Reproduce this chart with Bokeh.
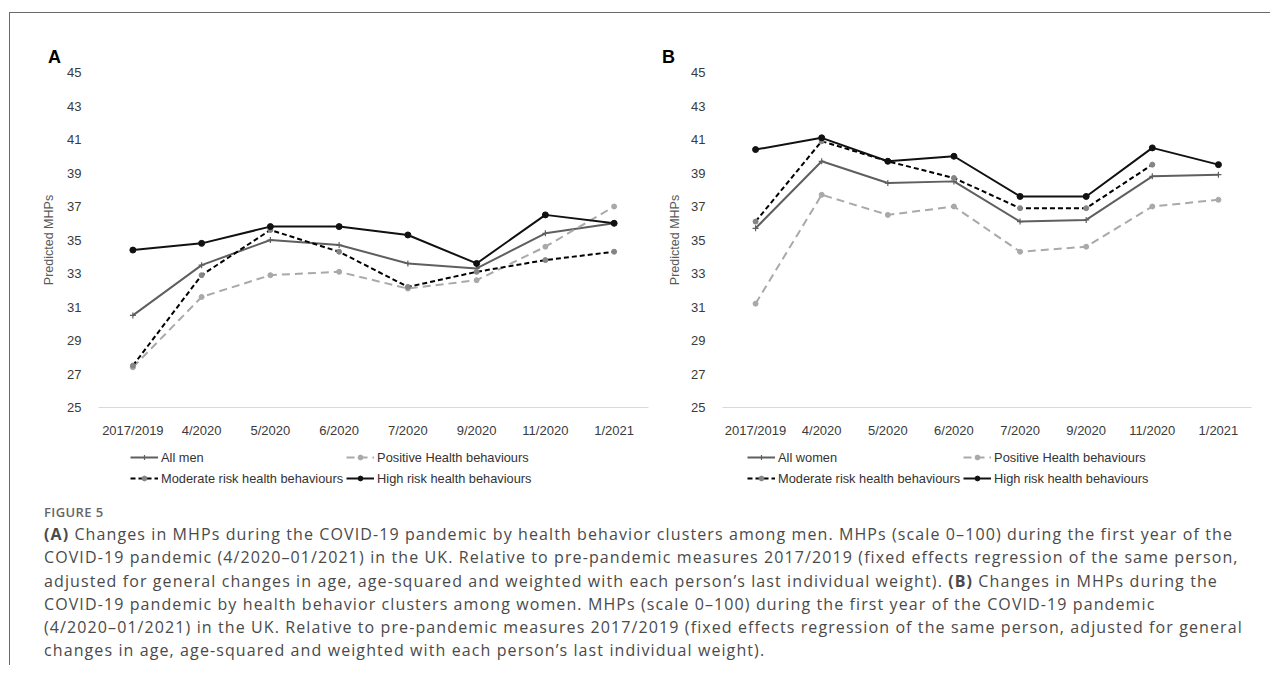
import math
from bokeh.plotting import figure
from bokeh.models import Range1d, FactorRange, FixedTicker, Legend, LegendItem, Div
from bokeh.layouts import row, column
from bokeh.embed import file_html
from bokeh.resources import INLINE

NaN = float("nan")

periods = ["2017/2019", "4/2020", "5/2020", "6/2020", "7/2020", "9/2020", "11/2020", "1/2021"]
y_ticks = [25, 27, 29, 31, 33, 35, 37, 39, 41, 43, 45]

# Panel A (men)
all_men = [30.5, 33.5, 35.0, 34.7, 33.6, 33.3, 35.4, 36.0]
positive_men = [27.4, 31.6, 32.9, 33.1, 32.1, 32.6, 34.6, 37.0]
moderate_men = [27.5, 32.9, 35.6, 34.3, 32.2, 33.1, 33.8, 34.3]
high_men = [34.4, 34.8, 35.8, 35.8, 35.3, 33.6, 36.5, 36.0]

# Panel B (women)
all_women = [35.7, 39.7, 38.4, 38.5, 36.1, 36.2, 38.8, 38.9]
positive_women = [31.2, 37.7, 36.5, 37.0, 34.3, 34.6, 37.0, 37.4]
moderate_women = [36.1, 40.9, 39.7, 38.7, 36.9, 36.9, 39.5, NaN]
high_women = [40.4, 41.1, 39.7, 40.0, 37.6, 37.6, 40.5, 39.5]

labels_A = ["All men", "Positive Health behaviours", "Moderate risk health behaviours", "High risk health behaviours"]
labels_B = ["All women", "Positive Health behaviours", "Moderate risk health behaviours", "High risk health behaviours"]

TICK_FONT = "Liberation Sans"

STYLES = {
    "all": dict(line=dict(line_color="#5f5f5f", line_width=2),
                mark=dict(marker="cross", size=6, line_color="#5f5f5f", line_width=1.2)),
    "pos": dict(line=dict(line_color="#a9a9a9", line_width=2, line_dash="8 5"),
                mark=dict(marker="circle", size=5, fill_color="#a9a9a9", line_color="#a9a9a9")),
    "mod": dict(line=dict(line_color="#000000", line_width=2, line_dash="5 3"),
                mark=dict(marker="circle", size=5, fill_color="#858585", line_color="#858585")),
    "high": dict(line=dict(line_color="#111111", line_width=2),
                 mark=dict(marker="circle", size=6, fill_color="#111111", line_color="#111111")),
}
ORDER = ["all", "pos", "mod", "high"]


def make_panel(series, width, b_left, b_right, title_standoff):
    p = figure(x_range=FactorRange(*periods, range_padding=0), y_range=Range1d(25, 45),
               width=width, height=376, output_backend="svg", toolbar_location=None,
               min_border_left=b_left, min_border_right=b_right, min_border_top=8,
               min_border_bottom=25, title=None)
    p.outline_line_color = None
    p.xgrid.visible = False
    p.ygrid.visible = False

    for key, vals in zip(ORDER, series):
        p.line(periods, vals, **STYLES[key]["line"])
        p.scatter(periods, vals, **STYLES[key]["mark"])

    xa = p.xaxis[0]
    xa.axis_line_color = "#d9d9d9"
    xa.axis_line_width = 1
    xa.major_tick_line_color = None
    xa.minor_tick_line_color = None
    xa.major_label_standoff = 9
    xa.major_label_text_font = TICK_FONT
    xa.major_label_text_font_size = "13px"
    xa.major_label_text_color = "#3a3a3a"

    ya = p.yaxis[0]
    ya.ticker = FixedTicker(ticks=y_ticks)
    ya.axis_line_color = None
    ya.major_tick_line_color = None
    ya.minor_tick_line_color = None
    ya.major_label_standoff = 11
    ya.major_label_text_font = TICK_FONT
    ya.major_label_text_font_size = "13px"
    ya.major_label_text_color = "#3a3a3a"
    ya.axis_label = "Predicted MHPs"
    ya.axis_label_text_font = TICK_FONT
    ya.axis_label_text_font_style = "normal"
    ya.axis_label_text_font_size = "12.5px"
    ya.axis_label_text_color = "#595959"
    ya.axis_label_standoff = title_standoff
    return p


def make_legend(labels, width, leg_x):
    lp = figure(width=width, height=55, x_range=Range1d(0, 1), y_range=Range1d(0, 1),
                x_axis_type=None, y_axis_type=None, output_backend="svg",
                toolbar_location=None, min_border=0, min_border_left=0, min_border_right=0,
                min_border_top=0, min_border_bottom=0, title=None)
    lp.outline_line_color = None
    items = []
    for key, lab in zip(ORDER, labels):
        # legend-only renderers: no visible data, only their styling feeds the legend icons
        rl = lp.line(x=[NaN], y=[NaN], **STYLES[key]["line"])
        rm = lp.scatter(x=[NaN], y=[NaN], **STYLES[key]["mark"])
        items.append(LegendItem(label=lab, renderers=[rl, rm]))
    leg = Legend(items=items, location=(leg_x, 8), orientation="horizontal", ncols=2,
                 glyph_width=28, glyph_height=12, label_standoff=3, spacing=3,
                 label_height=18, padding=0, margin=0, border_line_color=None,
                 background_fill_alpha=0, label_text_font=TICK_FONT,
                 label_text_font_size="12.8px", label_text_color="#333333")
    lp.add_layout(leg, "center")
    return lp


pA = make_panel((all_men, positive_men, moderate_men, high_men),
                width=645, b_left=88, b_right=7, title_standoff=8)
pB = make_panel((all_women, positive_women, moderate_women, high_women),
                width=615, b_left=67, b_right=19, title_standoff=6)
lA = make_legend(labels_A, 645, 120)
lB = make_legend(labels_B, 615, 92)

letters_html = (
    "<div style=\"position:relative; width:1260px; height:51px; font-family:'Liberation Sans'; "
    "font-weight:700; font-size:18px; line-height:18px; color:#000;\">"
    "<span style=\"position:absolute; left:38px; top:35px;\">A</span>"
    "<span style=\"position:absolute; left:652px; top:35px;\">B</span>"
    "</div>"
)
letters = Div(text=letters_html, width=1260, height=51, margin=0)

caption_lines = [
    "<b style='font-weight:700'>(A)</b> Changes in MHPs during the COVID-19 pandemic by health behavior clusters among men. MHPs (scale 0&#8211;100) during the first year of the",
    "COVID-19 pandemic (4/2020&#8211;01/2021) in the UK. Relative to pre-pandemic measures 2017/2019 (fixed effects regression of the same person,",
    "adjusted for general changes in age, age-squared and weighted with each person&#8217;s last individual weight). <b style='font-weight:700'>(B)</b> Changes in MHPs during the",
    "COVID-19 pandemic by health behavior clusters among women. MHPs (scale 0&#8211;100) during the first year of the COVID-19 pandemic",
    "(4/2020&#8211;01/2021) in the UK. Relative to pre-pandemic measures 2017/2019 (fixed effects regression of the same person, adjusted for general",
    "changes in age, age-squared and weighted with each person&#8217;s last individual weight).",
]

cap_html = (
    "<div style=\"padding:7px 0 0 34px; font-family:'Open Sans'; white-space:nowrap;\">"
    "<div style=\"font-size:13px; line-height:20px; font-weight:600; color:#666666; letter-spacing:0.4px;\">FIGURE 5</div>"
    "<div style=\"font-size:16px; line-height:23.3px; color:#4a4a4a; margin-top:1px; letter-spacing:1.1px;\">"
    + "<br>".join(caption_lines) +
    "</div></div>"
)
cap = Div(text=cap_html, width=1260, height=170, margin=0)

layout = column(letters, row(pA, pB), row(lA, lB), cap, margin=(12, 0, 0, 9),
                styles={"border-top": "1px solid #6a6a6a", "border-left": "1px solid #6a6a6a"})

open("out.html", "w").write(file_html(layout, INLINE))
